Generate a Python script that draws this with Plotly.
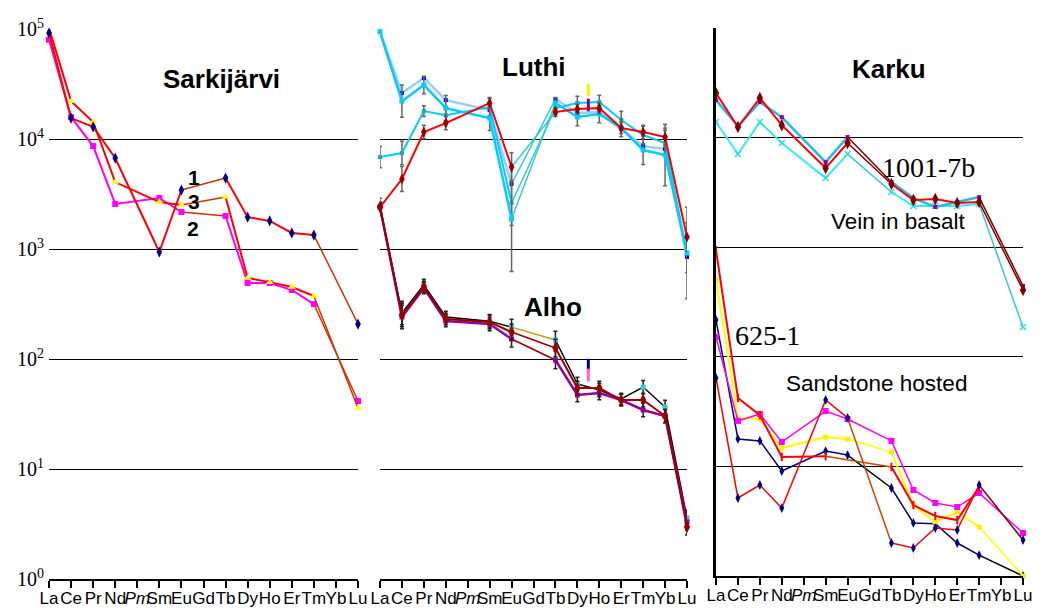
import plotly.graph_objects as go

# ---------------- data ----------------
ELEMENTS = ["La", "Ce", "Pr", "Nd", "Pm", "Sm", "Eu", "Gd", "Tb", "Dy", "Ho", "Er", "Tm", "Yb", "Lu"]
TICK_TEXT = ["La", "Ce", "Pr", "Nd", "<i>Pm</i>", "Sm", "Eu", "Gd", "Tb", "Dy", "Ho", "Er", "Tm", "Yb", "Lu"]
Y_TICKS = [1, 10, 100, 1000, 10000, 100000]
Y_TICK_TEXT = ["10<sup>0</sup>", "10<sup>1</sup>", "10<sup>2</sup>", "10<sup>3</sup>", "10<sup>4</sup>", "10<sup>5</sup>"]
N = None

# Sarkijarvi
sark_1 = [92000, 15500, 12900, 6720, N, 940, 3440, N, 4420, 1950, 1800, 1400, 1340, N, 208]
sark_2 = [80000, 15800, 8630, 2570, N, 2910, 2170, N, 1995, 491, 491, 424, 316, N, 41.5]
sark_3 = [102000, 22100, 14300, 4060, N, 2670, 2510, N, 2970, 545, 500, 451, 374, N, 35.9]

# Luthi
luthi_1 = [94500, 26200, 35900, 22600, N, 18350, 3900, N, 23100, 17230, 17600, 12330, 8640, 8110, 846]
luthi_2 = [94500, 22100, 31000, 19100, N, 15520, 1874, N, 21250, 15850, 16870, 12590, 7940, 7160, 920]
luthi_3 = [6860, 7460, 17970, 16500, N, 19540, 2620, N, 19100, 21250, 21700, 14890, 10870, 9200, 920]
luthi_4 = [2410, 4330, 11580, 13970, N, 21250, 5560, N, 17600, 18750, 19100, 12590, 11580, 10430, 1286]
luthi_2_err = [1.08, 1.4, 1.2, 1.3, N, 1.3, 3.0, N, 1.12, 1.2, 1.2, 1.2, 1.35, 1.9, 2.6]
luthi_3_err = [1.25, 1.28, 1.12, 1.2, N, 1.2, 1.6, N, 1.15, 1.15, 1.15, 1.2, 1.2, 1.3, 1.5]
luthi_4_err = [1.2, 1.3, 1.15, 1.15, N, 1.12, 1.35, N, 1.1, 1.1, 1.12, 1.12, 1.15, 1.2, 1.35]
luthi_odd = [27900, 20400]          # extra analyses plotted between Dy and Ho
luthi_odd_colors = ["#FFEE00", "#880088"]

# Alho
alho_1 = [2410, 262, 471, 241, N, 221, 195, N, 149, 59.3, 52.3, 43.3, 55.6, 36.6, 3.59]
alho_2 = [2410, 251, 451, 231, N, 217, 176, N, 126, 54.5, 54.5, 42.4, 42.4, 30.3, 2.97]
alho_3 = [2410, 241, 442, 222, N, 208, 152, N, 98, 47.1, 49.1, 42.4, 34.4, 30.3, 3.3]
alho_err = [1.1, 1.28, 1.13, 1.13, N, 1.15, 1.18, N, 1.2, 1.15, 1.15, 1.13, 1.15, 1.15, 1.18]
alho_odd = [88, 71.6]
alho_odd_colors = ["#000099", "#FF66CC"]

# Karku - vein in basalt (1001-7b)
karku_1 = [25500, 12500, 23000, 13000, N, 5280, 8930, N, 3775, 2700, 2750, 2530, 2585, N, 407]
karku_2 = [22000, 12770, 21100, 15400, N, 5990, 10130, N, 3940, 2810, 2330, 2585, 2870, N, 443]
karku_3 = [13870, 7080, 13870, 8930, N, 4280, 7080, N, 3190, 2377, 2377, 2377, 2478, N, 187]

# Karku - sandstone hosted (625-1)
sand_a = [942, 42.1, 29.4, 12.2, N, 12.4, N, N, 9.88, 4.44, 3.53, 3.24, 6.49, N, N]
sand_b = [64.1, 5.15, 6.77, 4.17, N, 40.4, 27.7, N, 2.0, 1.8, 2.74, 2.63, 6.77, N, 2.13]
sand_m = [152, 26.0, 30.1, 16.7, N, 32.0, 27.1, N, 17.1, 6.09, 4.64, 4.26, 5.72, N, 2.47]
sand_y = [502, 27.7, 27.1, 14.7, N, 18.5, 17.8, N, 13.5, 4.44, 3.11, 3.84, 2.80, N, 1.0]
sand_n = [217, 17.8, 17.1, 9.08, N, 13.8, 12.7, N, 6.35, 3.05, 3.0, 2.0, 1.55, N, 1.0]

# ---------------- figure ----------------
OFF = 8                      # page body margin of the html page
W, H = 1044 - OFF, 608 - OFF
fig = go.Figure()

AX = {1: ("x", "y"), 2: ("x2", "y2"), 3: ("x3", "y3")}
IDX = list(range(len(ELEMENTS)))
PLOTTED = [i for i in IDX if ELEMENTS[i] != "Pm"]


def add_series(panel, values, color, width, symbol, msize, mcolor,
               bridge, bridge_width=1.5, err=None, err_color="#666666", mline=0):
    xa, ya = AX[panel]
    present = [i for i in PLOTTED if values[i] is not None]
    # bridging segments across missing elements
    for a, b in zip(present[:-1], present[1:]):
        gaps = [k for k in PLOTTED if a < k < b]
        if not gaps:
            continue
        if isinstance(bridge, dict):
            bc = bridge.get(ELEMENTS[gaps[0]], list(bridge.values())[0])
        else:
            bc = bridge
        fig.add_trace(go.Scatter(x=[a, b], y=[values[a], values[b]], mode="lines",
                                 line=dict(color=bc, width=bridge_width),
                                 xaxis=xa, yaxis=ya, hoverinfo="skip",
                                 showlegend=False, cliponaxis=False))
    marker = dict(symbol=symbol, size=msize, color=mcolor,
                  line=dict(width=mline, color=mcolor))
    kw = {}
    if err is not None:
        plus, minus = [], []
        for i in PLOTTED:
            v, f = values[i], err[i]
            if v is None or f is None:
                plus.append(0)
                minus.append(0)
            else:
                plus.append(v * (f - 1))
                minus.append(v * (1 - 1 / f))
        kw["error_y"] = dict(type="data", symmetric=False, array=plus, arrayminus=minus,
                             color=err_color, thickness=1.5, width=2)
    fig.add_trace(go.Scatter(x=PLOTTED, y=[values[i] for i in PLOTTED],
                             mode="lines+markers", connectgaps=False,
                             line=dict(color=color, width=width), marker=marker,
                             xaxis=xa, yaxis=ya, showlegend=False,
                             cliponaxis=False, **kw))


BROWN = "#CC3300"
# Sarkijarvi
add_series(1, sark_2, "#FF00FF", 2, "square", 6, "#FF00FF", BROWN)
add_series(1, sark_3, "#FF0000", 2, "triangle-up", 7, "#FFFF00", BROWN)
add_series(1, sark_1, "#FF0000", 2, "diamond-tall", 8, "#000080", BROWN)

# Luthi
TEAL = "#33CCCC"
add_series(2, luthi_1, "#99CCFF", 2.5, "square", 4, "#0000FF", TEAL)
add_series(2, luthi_3, "#00CCFF", 2, "square", 4, "#22AAAA", TEAL, err=luthi_3_err)
add_series(2, luthi_2, "#00CCFF", 2.5, "square", 5, "#00CCFF", TEAL, err=luthi_2_err)
add_series(2, luthi_4, "#FF0000", 2, "diamond-tall", 8, "#990000", TEAL, err=luthi_4_err)

# Alho
add_series(2, alho_1, "#000000", 1.5, "square", 5, "#33CCCC", "#CC9900", err=alho_err, err_color="#222222")
add_series(2, alho_3, "#990099", 2.5, "square", 5, "#990099", "#990000", err=alho_err, err_color="#222222")
add_series(2, alho_2, "#990000", 2, "diamond-tall", 9, "#990000", "#990000", err=alho_err, err_color="#222222")

# extra analyses between Dy and Ho
odd_x = (ELEMENTS.index("Dy") + ELEMENTS.index("Ho")) / 2
fig.add_trace(go.Scatter(x=[odd_x] * len(luthi_odd), y=luthi_odd, mode="markers",
                         marker=dict(symbol="line-ns", size=9, color=luthi_odd_colors,
                                     line=dict(width=3, color=luthi_odd_colors)),
                         xaxis="x2", yaxis="y2", showlegend=False, cliponaxis=False))
fig.add_trace(go.Scatter(x=[odd_x] * len(alho_odd), y=alho_odd, mode="markers",
                         marker=dict(symbol="line-ns", size=9, color=alho_odd_colors,
                                     line=dict(width=3, color=alho_odd_colors)),
                         xaxis="x2", yaxis="y2", showlegend=False, cliponaxis=False))

# Karku vein
add_series(3, karku_3, "#33EEEE", 2, "x-thin", 6, "#33DDDD", "#33CCCC", mline=1.5)
add_series(3, karku_2, "#22B8F0", 2.5, "square", 4, "#990099", "#800000")
add_series(3, karku_1, "#FF0000", 2, "diamond-tall", 9, "#800000", "#800000")

# Karku sandstone
add_series(3, sand_n, "#000080", 1.5, "diamond-tall", 7, "#000080", "#000000")
add_series(3, sand_y, "#FFFF00", 2, "square", 5, "#FFEE00", "#FFFF00")
add_series(3, sand_m, "#FF00FF", 1.5, "square", 6, "#FF00FF", "#FF00FF")
add_series(3, sand_a, "#FF0000", 2, "line-ns", 6, "#FF0000", "#CC4400", mline=2)
add_series(3, sand_b, "#FF0000", 1.5, "diamond-tall", 7, "#000080", {"Gd": "#CC4400", "Yb": "#800000"})

# ---------------- layout ----------------
def xdom(a, b):
    return [(a - OFF) / W, (b - OFF) / W]


def ydom(top, bottom):
    return [(H - (bottom - OFF)) / H, (H - (top - OFF)) / H]


xcommon = dict(tickmode="array", tickvals=IDX, ticktext=TICK_TEXT, range=[0, 14],
               showgrid=False, zeroline=False, showline=True, linecolor="black",
               linewidth=1.5, ticks="outside", ticklen=7, tickwidth=1.5, tickcolor="black",
               tickangle=0, automargin=False, ticklabelstandoff=-4,
               tickfont=dict(family="Liberation Sans", size=17, color="black"),
               fixedrange=True)
ycommon = dict(type="log", range=[0, 5.0005], tickmode="array", tickvals=Y_TICKS,
               ticktext=Y_TICK_TEXT, showgrid=True, gridcolor="black", gridwidth=1.3,
               zeroline=False, ticks="", fixedrange=True, automargin=False,
               tickfont=dict(family="Liberation Serif", size=20, color="black"))

fig.update_layout(
    width=W, height=H, margin=dict(l=0, r=0, t=0, b=0, autoexpand=False),
    paper_bgcolor="white", plot_bgcolor="white", showlegend=False,
    xaxis=dict(domain=xdom(49, 358), anchor="y", **xcommon),
    xaxis2=dict(domain=xdom(380, 687), anchor="y2", **xcommon),
    xaxis3=dict(domain=xdom(716, 1023), anchor="y3", **xcommon),
    yaxis=dict(domain=ydom(29, 579), anchor="x", showticklabels=True,
               ticklabelstandoff=4, **ycommon),
    yaxis2=dict(domain=ydom(29, 579), anchor="x2", showticklabels=False, **ycommon),
    yaxis3=dict(domain=ydom(28, 576), anchor="x3", showticklabels=False, showline=True,
                linecolor="black", linewidth=2.5, **ycommon),
)


def label(text, px, py, size, family="Liberation Sans", bold=False):
    if bold:
        text = "<b>" + text + "</b>"
    fig.add_annotation(x=(px - OFF) / W, y=1 - (py - OFF) / H, xref="paper", yref="paper",
                       text=text, showarrow=False, xanchor="center", yanchor="middle",
                       font=dict(family=family, size=size, color="black"))


label("Sarkijärvi", 221, 79, 26, bold=True)
label("1", 194, 177, 21, bold=True)
label("3", 194, 202, 21, bold=True)
label("2", 193, 228, 21, bold=True)
label("Luthi", 534, 67, 26, bold=True)
label("Alho", 553, 307, 26, bold=True)
label("Karku", 889, 69, 26, bold=True)
label("1001-7b", 928, 167, 28, family="Liberation Serif")
label("Vein in basalt", 898, 221, 22.5)
label("625-1", 767, 335, 28, family="Liberation Serif")
label("Sandstone hosted", 876, 383, 22.5)

fig.write_html("out.html")
